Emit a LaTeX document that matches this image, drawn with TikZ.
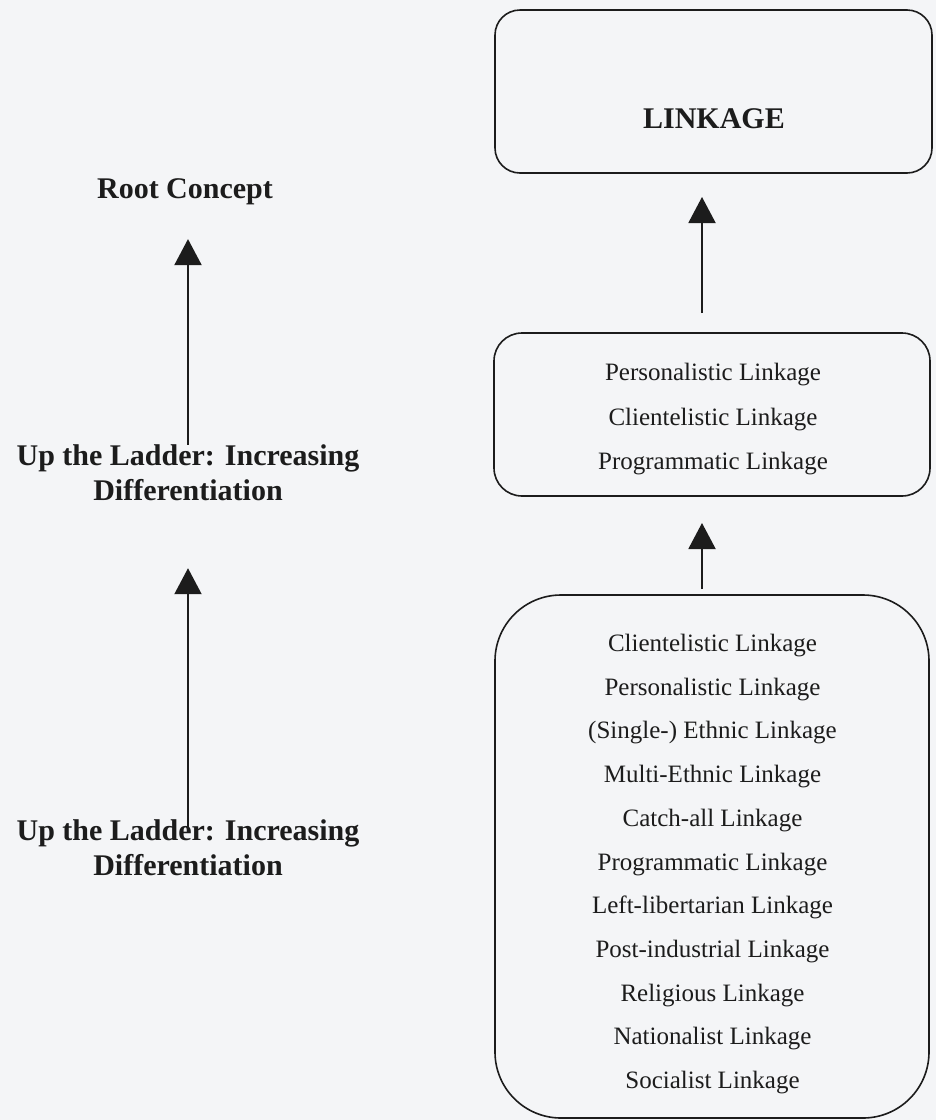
\documentclass[tikz,border=0pt]{standalone}
\usepackage{fontspec}
\setmainfont{Liberation Serif}
\usetikzlibrary{arrows.meta}
\definecolor{bg}{RGB}{244,245,247}
\definecolor{ink}{RGB}{28,28,28}
\begin{document}
\begin{tikzpicture}[x=1pt,y=1pt,
  box/.style={draw=ink, line width=1.6pt, inner sep=0pt, outer sep=0pt},
  arr/.style={draw=ink, line width=2pt, -{Triangle[length=26pt,width=27pt]}},
  boldtext/.style={font=\fontsize{30}{35}\selectfont\bfseries, text=ink, inner sep=0pt, align=center},
  regtext/.style={text=ink, inner sep=0pt, align=center}]
\path[use as bounding box, fill=bg] (0,0) rectangle (936,-1120);

% boxes
\node[box, minimum width=437pt, minimum height=163pt, rounded corners=25pt] (top) at (713.5,-91.5) {};
\node[box, minimum width=436pt, minimum height=163pt, rounded corners=28pt] (mid) at (712,-414.5) {};
\node[box, minimum width=434pt, minimum height=523pt, rounded corners=66pt] (bot) at (712,-856.5) {};

% texts in boxes
\node[boldtext, anchor=base] (link) at (714,-128) {LINKAGE};
\node[regtext, font=\fontsize{25}{44.5}\selectfont, anchor=north] (midtext) at (713,-363)
  {Personalistic Linkage\\Clientelistic Linkage\\Programmatic Linkage};
\node[regtext, font=\fontsize{25}{43.7}\selectfont, anchor=north] (bottext) at (712.5,-634)
  {Clientelistic Linkage\\Personalistic Linkage\\(Single-) Ethnic Linkage\\Multi-Ethnic Linkage\\Catch-all Linkage\\Programmatic Linkage\\Left-libertarian Linkage\\Post-industrial Linkage\\Religious Linkage\\Nationalist Linkage\\Socialist Linkage};

% left labels
\node[boldtext, anchor=base] (root) at (185,-198) {Root Concept};
\node[boldtext, anchor=north] (lad1) at (188,-444.7) {Up the Ladder: Increasing\\Differentiation};
\node[boldtext, anchor=north] (lad2) at (188,-819.7) {Up the Ladder: Increasing\\Differentiation};

% connectors
\coordinate (a1) at ([xshift=-10pt]mid.north);
\coordinate (a2) at ([xshift=-10pt]bot.north);
\draw[arr, shorten <=20pt, shorten >=24pt] (a1) -- (a1 |- top.south);
\draw[arr, shorten <=6pt, shorten >=27pt] (a2) -- (a2 |- mid.south);
\draw[arr, shorten >=34.5pt] (lad1.north) -- (lad1.north |- root.south);
\draw[arr, shorten <=-7pt, shorten >=67pt] (lad2.north) -- (lad2.north |- lad1.south);
\end{tikzpicture}
\end{document}
